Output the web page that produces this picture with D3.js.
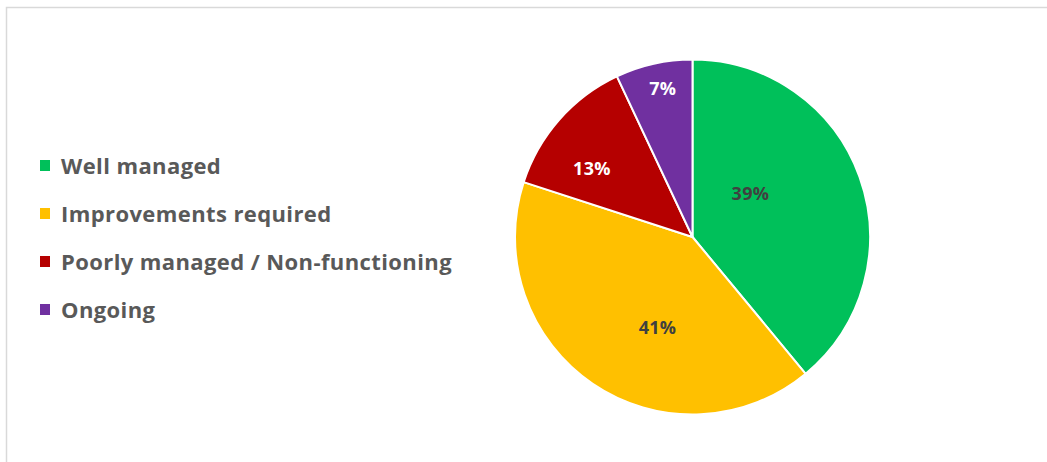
<!DOCTYPE html>
<html>
<head>
<meta charset="utf-8">
<script src="https://cdn.jsdelivr.net/npm/d3@7"></script>
<style>
  html, body { margin: 0; padding: 0; background: #fff; }
  svg { display: block; }
</style>
</head>
<body>
<svg id="chart" width="1047" height="462"></svg>
<script>
// ---- data ----
const categories = ["Well managed", "Improvements required", "Poorly managed / Non-functioning", "Ongoing"];
const values = [39, 41, 13, 7];
const valueLabels = ["39%", "41%", "13%", "7%"];
const colors = ["#00C05A", "#FFC000", "#B50000", "#7030A0"];
const labelColors = ["#404040", "#404040", "#FFFFFF", "#FFFFFF"];

// ---- layout / style ----
const W = 1047, H = 462;
const cx = 692.5, cy = 237, R = 177.5;
// label placement (radius fraction, angle nudge in degrees) mimicking Excel "best fit"
const labelRadius = [0.41, 0.545, 0.687, 0.854];
const labelNudge = [-17.4, -13, -7, 1.3];

const svg = d3.select("#chart");

// chart area border (extends beyond the visible frame right/bottom)
svg.append("rect")
  .attr("x", 6.5).attr("y", 7.5)
  .attr("width", W + 10).attr("height", H + 10)
  .attr("fill", "none")
  .attr("stroke", "#d9d9d9")
  .attr("stroke-width", 1.5);

const data = categories.map((c, i) => ({ name: c, value: values[i], label: valueLabels[i], i }));

const pie = d3.pie().value(d => d.value).sort(null);
const arcs = pie(data);
const arc = d3.arc().innerRadius(0).outerRadius(R);

const g = svg.append("g").attr("transform", `translate(${cx},${cy})`);

g.selectAll("path.slice")
  .data(arcs)
  .join("path")
  .attr("class", "slice")
  .attr("d", arc)
  .attr("fill", d => colors[d.data.i])
  .attr("stroke", "#fff")
  .attr("stroke-width", 2)
  .attr("stroke-linejoin", "round");

g.selectAll("text.lbl")
  .data(arcs)
  .join("text")
  .attr("class", "lbl")
  .attr("transform", d => {
    const i = d.data.i;
    const a = (d.startAngle + d.endAngle) / 2 + labelNudge[i] * Math.PI / 180;
    const r = R * labelRadius[i];
    return `translate(${r * Math.sin(a)},${-r * Math.cos(a)})`;
  })
  .attr("text-anchor", "middle")
  .attr("dominant-baseline", "central")
  .attr("font-family", "'Open Sans', Lato, sans-serif")
  .attr("font-weight", "bold")
  .attr("font-size", 18)
  .attr("letter-spacing", 0.3)
  .attr("fill", d => labelColors[d.data.i])
  .text(d => d.data.label);

// legend
const legendX = 40, legendY0 = 165, legendStep = 48;
const leg = svg.append("g");
const items = leg.selectAll("g.item")
  .data(data)
  .join("g")
  .attr("class", "item")
  .attr("transform", (d, i) => `translate(${legendX},${legendY0 + i * legendStep})`);

items.append("rect")
  .attr("x", 0).attr("y", -5)
  .attr("width", 10).attr("height", 11)
  .attr("fill", d => colors[d.i]);

items.append("text")
  .attr("x", 21).attr("y", 0)
  .attr("dominant-baseline", "central")
  .attr("font-family", "'Open Sans', Lato, sans-serif")
  .attr("font-weight", "bold")
  .attr("font-size", 22)
  .attr("letter-spacing", 0.4)
  .attr("fill", "#595959")
  .text(d => d.name);
</script>
</body>
</html>
